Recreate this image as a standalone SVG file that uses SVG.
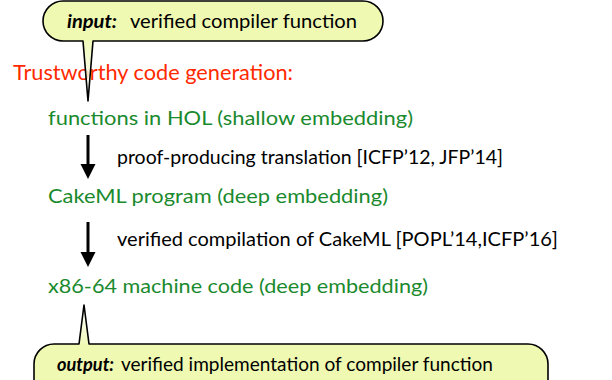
<svg xmlns="http://www.w3.org/2000/svg" width="612" height="380" viewBox="0 0 612 380">
  <defs>
    <style>
      text { font-family: Lato, "Open Sans", "Liberation Sans", sans-serif; }
      .title { fill: #ff2a00; font-size: 21px; }
      .stage { fill: #1a8a2e; font-size: 20px; }
      .step { fill: #000; font-size: 20px; }
      .note { fill: #000; font-size: 18.5px; }
      .note-key { font-style: italic; font-weight: bold; }
      .bubble { fill: #eff9b2; }
      .bubble-line { fill: none; stroke: #000; stroke-width: 1.6; stroke-linejoin: round; }
      .shaft { stroke: #000; stroke-width: 3; }
    </style>
    <linearGradient id="tailFade" x1="0" y1="0" x2="0" y2="1">
      <stop offset="0" stop-color="#eff9b2" stop-opacity="0.9"/>
      <stop offset="1" stop-color="#ffffff" stop-opacity="0.8"/>
    </linearGradient>
    <linearGradient id="tailFadeUp" x1="0" y1="1" x2="0" y2="0">
      <stop offset="0" stop-color="#eff9b2" stop-opacity="0.9"/>
      <stop offset="1" stop-color="#ffffff" stop-opacity="0.8"/>
    </linearGradient>
  </defs>

  <rect width="612" height="380" fill="#fff"/>

  <!-- heading -->
  <g id="title">
    <text class="title" x="13" y="80" textLength="280" lengthAdjust="spacingAndGlyphs">Trustworthy code generation:</text>
  </g>

  <!-- pipeline stages -->
  <g id="node-hol">
    <text class="stage" x="48" y="125" textLength="365" lengthAdjust="spacingAndGlyphs">functions in HOL (shallow embedding)</text>
  </g>
  <g id="node-cakeml">
    <text class="stage" x="48" y="203" textLength="340" lengthAdjust="spacingAndGlyphs">CakeML program (deep embedding)</text>
  </g>
  <g id="node-x86">
    <text class="stage" x="48" y="293" textLength="380" lengthAdjust="spacingAndGlyphs">x86-64 machine code (deep embedding)</text>
  </g>

  <!-- downward arrows between stages -->
  <g id="connectors">
    <line class="shaft" x1="88" y1="135" x2="88" y2="164"/>
    <polygon points="80.5,164 95.5,164 88,179" fill="#000"/>
    <line class="shaft" x1="88" y1="222" x2="88" y2="252"/>
    <polygon points="80.5,252 95.5,252 88,267" fill="#000"/>
  </g>

  <g id="label-translation">
    <text class="step" x="117" y="164" textLength="386" lengthAdjust="spacingAndGlyphs">proof-producing translation [ICFP’12, JFP’14]</text>
  </g>
  <g id="label-compilation">
    <text class="step" x="117" y="246" textLength="441" lengthAdjust="spacingAndGlyphs">verified compilation of CakeML [POPL’14,ICFP’16]</text>
  </g>

  <!-- input speech bubble, tail drawn over the heading -->
  <g id="callout-input">
    <rect class="bubble" x="43" y="1" width="340" height="40" rx="20"/>
    <polygon points="83,41 93,41 88,101" fill="url(#tailFade)"/>
    <path class="bubble-line" d="M63,1 H363 A20,20 0 0 1 383,21 A20,20 0 0 1 363,41 H93 L88,101 L83,41 H63 A20,20 0 0 1 43,21 A20,20 0 0 1 63,1 Z"/>
    <text class="note" x="67" y="28"><tspan class="note-key" textLength="50" lengthAdjust="spacingAndGlyphs">input:</tspan><tspan x="130" textLength="227" lengthAdjust="spacingAndGlyphs">verified compiler function</tspan></text>
  </g>

  <!-- output speech bubble -->
  <g id="callout-output">
    <rect class="bubble" x="34" y="344" width="514" height="50" rx="20"/>
    <polygon points="79,344 89,344 84,305" fill="url(#tailFadeUp)"/>
    <path class="bubble-line" d="M54,344 H79 L84,305 L89,344 H528 A20,20 0 0 1 548,364 V392 H34 V364 A20,20 0 0 1 54,344 Z"/>
    <text class="note" x="57" y="371"><tspan class="note-key" textLength="57" lengthAdjust="spacingAndGlyphs">output:</tspan><tspan x="121" textLength="372" lengthAdjust="spacingAndGlyphs">verified implementation of compiler function</tspan></text>
  </g>
</svg>
